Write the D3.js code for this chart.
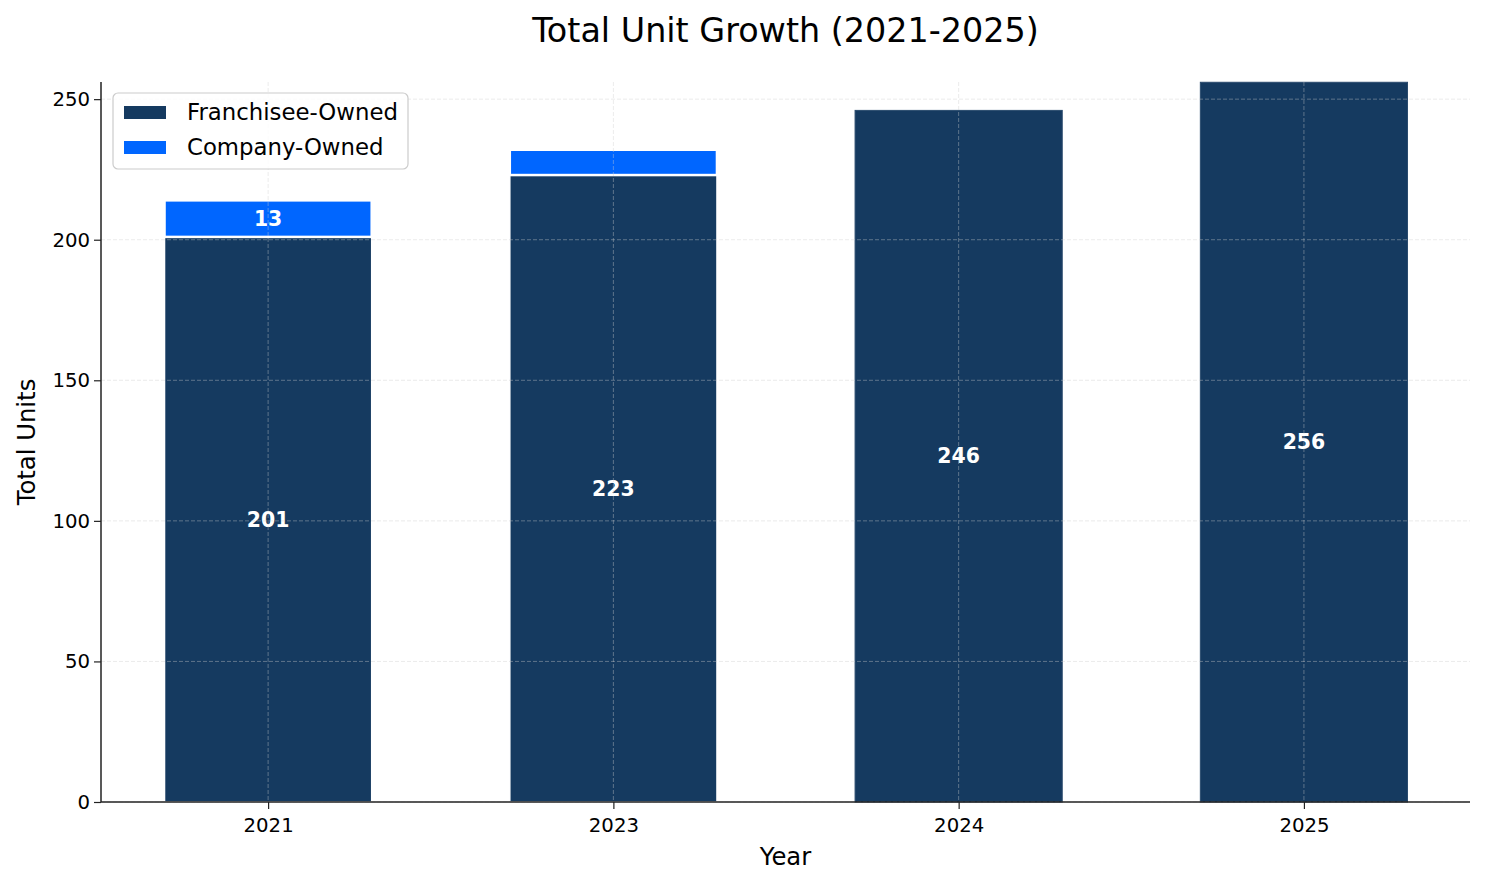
<!DOCTYPE html>
<html><head><meta charset="utf-8">
<script src="https://cdn.jsdelivr.net/npm/d3@7"></script>
<style>body{margin:0;background:#fff;} text{font-family:"DejaVu Sans",sans-serif;}</style>
</head><body>
<svg id="chart" width="1485" height="884"></svg>
<script>
const years = ["2021", "2023", "2024", "2025"];
const franchisee = [201, 223, 246, 256];
const company = [13, 9, 0, 0];
const yTicks = [0, 50, 100, 150, 200, 250];
const seriesNames = ["Franchisee-Owned", "Company-Owned"];
const colors = ["#153a60", "#0066ff"];

const svg = d3.select("#chart");
const L = 101, R = 1470, T = 82, B = 802;
const x = d3.scaleLinear().domain([-0.484, 3.481]).range([L, R]);
const y = d3.scaleLinear().domain([0, 256.1]).range([B, T]);
const bw = x(0.6) - x(0);

// bars
const g = svg.append("g");
years.forEach((yr, i) => {
  g.append("rect").attr("x", x(i) - bw/2).attr("width", bw)
    .attr("y", y(franchisee[i])).attr("height", y(0) - y(franchisee[i]))
    .attr("fill", colors[0]).attr("stroke", company[i] > 0 ? "#fff" : "#2a4b6e").attr("stroke-width", company[i] > 0 ? 1.5 : 1);
  if (company[i] > 0) {
    g.append("rect").attr("x", x(i) - bw/2).attr("width", bw)
      .attr("y", y(franchisee[i] + company[i])).attr("height", y(franchisee[i]) - y(franchisee[i] + company[i]))
      .attr("fill", colors[1]).attr("stroke", "#fff").attr("stroke-width", 2.5);
  }
});

// grid (on top)
const grid = svg.append("g").attr("stroke", "#cccccc").attr("stroke-opacity", 0.5).attr("stroke-dasharray", "4,2").attr("stroke-width", 0.8);
yTicks.forEach(t => grid.append("line").attr("x1", L).attr("x2", R).attr("y1", y(t)).attr("y2", y(t)));
years.forEach((yr, i) => grid.append("line").attr("x1", x(i)).attr("x2", x(i)).attr("y1", T).attr("y2", B));

// value labels
years.forEach((yr, i) => {
  g.append("text").attr("x", x(i)).attr("y", y(franchisee[i] / 2)).attr("dy", "0.35em")
    .attr("text-anchor", "middle").attr("fill", "#fff").attr("font-weight", "bold").attr("font-size", 20.4)
    .text(franchisee[i]);
  if (company[i] > 10) {
    g.append("text").attr("x", x(i)).attr("y", y(franchisee[i] + company[i] / 2)).attr("dy", "0.35em")
      .attr("text-anchor", "middle").attr("fill", "#fff").attr("font-weight", "bold").attr("font-size", 20.4)
      .text(company[i]);
  }
});

// axes
const yAxis = svg.append("g").attr("transform", `translate(${L},0)`)
  .call(d3.axisLeft(y).tickValues(yTicks).tickSize(7).tickPadding(4));
const xAxis = svg.append("g").attr("transform", `translate(0,${B})`)
  .call(d3.axisBottom(x).tickValues(years.map((d, i) => i)).tickFormat(i => years[i]).tickSize(7).tickPadding(9));
[yAxis, xAxis].forEach(a => {
  a.selectAll("text").attr("font-size", 19.7).attr("fill", "#000").attr("font-family", "DejaVu Sans");
  a.selectAll("line").attr("stroke", "#222").attr("stroke-width", 1.2);
  a.select(".domain").remove();
});
svg.append("line").attr("x1", L).attr("x2", L).attr("y1", T).attr("y2", B).attr("stroke", "#222").attr("stroke-width", 1.5);
svg.append("line").attr("x1", L).attr("x2", R).attr("y1", B).attr("y2", B).attr("stroke", "#222").attr("stroke-width", 1.5);

// titles
svg.append("text").attr("x", (L + R) / 2).attr("y", 42).attr("text-anchor", "middle").attr("font-size", 33.4).attr("fill", "#000")
  .text("Total Unit Growth (2021-2025)");
svg.append("text").attr("x", (L + R) / 2).attr("y", 865).attr("text-anchor", "middle").attr("font-size", 24.3).attr("fill", "#000").text("Year");
svg.append("text").attr("transform", `translate(35,${(T + B) / 2}) rotate(-90)`).attr("text-anchor", "middle").attr("font-size", 24.3).attr("fill", "#000").text("Total Units");

// legend
const lg = svg.append("g").attr("transform", "translate(113,93)");
lg.append("rect").attr("width", 295).attr("height", 76).attr("rx", 5).attr("fill", "#fff").attr("fill-opacity", 0.8).attr("stroke", "#cccccc").attr("stroke-width", 1.2);
seriesNames.forEach((n, i) => {
  lg.append("rect").attr("x", 11).attr("y", 13 + i * 35).attr("width", 42).attr("height", 13).attr("fill", colors[i]);
  lg.append("text").attr("x", 74).attr("y", 19.5 + i * 35).attr("dy", "0.35em").attr("font-size", 22.8).attr("fill", "#000").text(n);
});
</script>
</body></html>
